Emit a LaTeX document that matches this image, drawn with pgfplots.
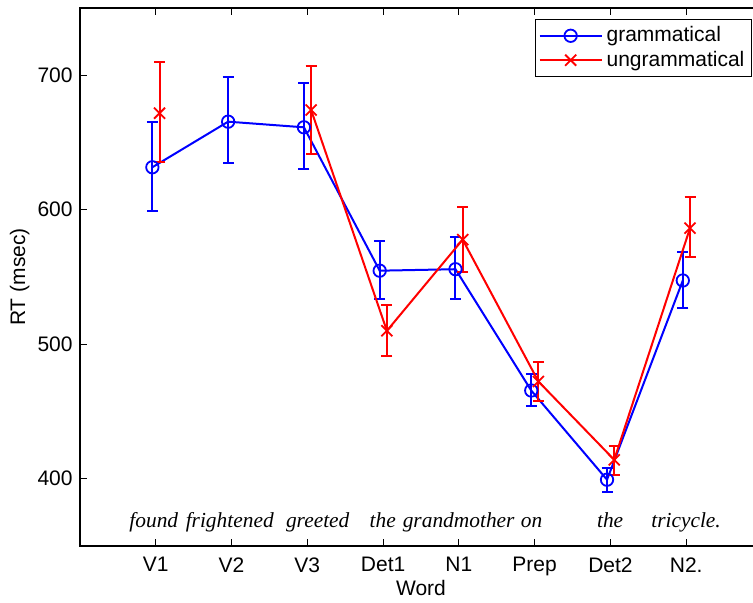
\documentclass[border=0pt]{standalone}
\usepackage{fontspec}
\setmainfont{Liberation Sans}
\newfontfamily\serifit{Liberation Serif}
\usepackage{pgfplots}
\pgfplotsset{compat=1.18}
\usepackage{pgfplotstable}

\pgfplotstableread{
x y ep em
0.955 631.6 33.9 32.4
1.955 665.5 33.5 30.9
2.955 661.3 32.7 30.7
3.955 554.7 22.3 21.4
4.955 555.8 23.8 22.3
5.955 465.6 12.2 11.4
6.955 399.3 8.7 9.5
7.955 547.4 21.5 20.5
}\gram

\pgfplotstableread{
x y ep em
1.05 671.8 38.1 36.0
2.05 nan 0 0
3.05 674.2 32.9 32.4
4.05 510.0 19.5 18.8
5.05 577.8 24.5 23.8
6.05 472.3 14.4 14.8
7.05 414.1 10.4 11.1
8.05 586.3 23.0 21.6
}\ungram

\begin{document}
\fontsize{10.5}{12.6}\selectfont
\begin{tikzpicture}
\useasboundingbox (-40pt,-28pt) rectangle (336.5pt,273pt);
\begin{axis}[
  scale only axis, width=341pt, height=269pt,
  xmin=0, xmax=9, ymin=350, ymax=750,
  xtick={1,...,8},
  xticklabels={V1,V2,V3,Det1,N1,Prep,Det2,N2.},
  ytick={400,500,600,700},
  tick align=inside,
  major tick length=3.5pt,
  tick style={black, line width=0.5pt},
  axis line style={line width=0.6pt},
  /pgf/number format/assume math mode=true,
  ticklabel style={font=\fontsize{10.5}{12.6}\selectfont},
  xticklabel style={yshift=-2pt},
  label style={font=\fontsize{10.5}{12.6}\selectfont},
  xlabel={Word},
  ylabel={RT (msec)},
  xlabel style={at={(axis description cs:0.5,-0.0929)}, anchor=base},
  ylabel style={at={(axis description cs:-0.0806,0.5)}, anchor=base, rotate=0},
  legend cell align=left,
  legend style={at={(axis description cs:0.9853,0.9796)}, anchor=north east,
    draw=black, line width=0.6pt, font=\fontsize{10.5}{12.6}\selectfont,
    nodes={inner xsep=2pt, inner ysep=1.5pt}, row sep=0pt, inner xsep=1.5pt, inner ysep=2pt},
  legend image code/.code={
    \draw[mark repeat=2,mark phase=2,#1] plot coordinates {(3pt,0pt) (18.5pt,0pt) (34pt,0pt)};
  },
  unbounded coords=jump,
]
\addplot[blue, line width=1pt, mark=o, mark size=3.1pt,
  mark options={line width=0.9pt},
  error bars/.cd, y dir=both, y explicit,
  error bar style={line width=1pt, blue},
  error mark options={rotate=90, mark size=2.75pt, line width=1pt, blue}]
  table[x=x, y=y, y error plus=ep, y error minus=em]{\gram};
\addlegendentry{grammatical}
\addplot[red, line width=1pt, mark=x, mark size=3.9pt,
  mark options={line width=0.9pt},
  error bars/.cd, y dir=both, y explicit,
  error bar style={line width=1pt, red},
  error mark options={rotate=90, mark size=2.75pt, line width=1pt, red}]
  table[x=x, y=y, y error plus=ep, y error minus=em]{\ungram};
\addlegendentry{ungrammatical}

\begin{scope}[every node/.style={anchor=base, inner sep=0pt, font=\serifit\itshape\fontsize{10.7}{12}\selectfont}]
\node at (axis cs:0.974,363.4) {found};
\node at (axis cs:1.976,363.4) {frightened};
\node at (axis cs:3.137,363.4) {greeted};
\node at (axis cs:3.995,363.4) {the};
\node at (axis cs:4.997,363.4) {grandmother};
\node at (axis cs:5.96,363.4) {on};
\node at (axis cs:6.996,363.4) {the};
\node at (axis cs:7.998,363.4) {tricycle.};
\end{scope}
\end{axis}
\end{tikzpicture}
\end{document}
